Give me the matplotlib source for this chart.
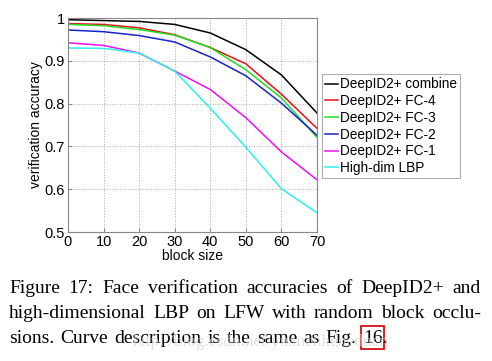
import matplotlib
matplotlib.use("Agg")
import matplotlib.pyplot as plt
from matplotlib.patches import Rectangle

block_size = [0, 10, 20, 30, 40, 50, 60, 70]
combine = [0.996, 0.994, 0.992, 0.985, 0.965, 0.926, 0.867, 0.778]
fc4 = [0.987, 0.985, 0.977, 0.961, 0.931, 0.893, 0.822, 0.742]
fc3 = [0.985, 0.982, 0.973, 0.960, 0.931, 0.879, 0.813, 0.721]
fc2 = [0.972, 0.968, 0.959, 0.944, 0.909, 0.865, 0.801, 0.726]
fc1 = [0.942, 0.936, 0.918, 0.876, 0.833, 0.767, 0.687, 0.622]
lbp = [0.930, 0.929, 0.918, 0.876, 0.789, 0.698, 0.601, 0.545]
labels = ["DeepID2+ combine", "DeepID2+ FC-4", "DeepID2+ FC-3",
          "DeepID2+ FC-2", "DeepID2+ FC-1", "High-dim LBP"]
colors = ["#000000", "#e8101c", "#22dd22", "#1a22cc", "#ee10ee", "#30eeee"]
xticks = [0, 10, 20, 30, 40, 50, 60, 70]
yticks = [0.5, 0.6, 0.7, 0.8, 0.9, 1.0]
yticklabels = ["0.5", "0.6", "0.7", "0.8", "0.9", "1"]
caption_lines = [
    "Figure 17: Face verification accuracies of DeepID2+ and",
    "high-dimensional LBP on LFW with random block occlu-",
    "sions. Curve description is the same as Fig. 16 .",
]

W, H = 492, 361
fig = plt.figure(figsize=(W / 100, H / 100), dpi=100)
plt.rcParams['font.family'] = ['Liberation Sans', 'DejaVu Sans']

ax = fig.add_axes([68 / W, 1 - 232 / H, (317 - 68) / W, (232 - 18) / H])
series = [combine, fc4, fc3, fc2, fc1, lbp]
for s, c, l in zip(series, colors, labels):
    ax.plot(block_size, s, color=c, lw=1.1, label=l)
ax.set_xlim(0, 70)
ax.set_ylim(0.5, 1.0)
ax.set_xticks(xticks)
ax.set_yticks(yticks)
ax.set_yticklabels(yticklabels)
ax.tick_params(direction='in', length=3, labelsize=10.5, pad=2, color='#888888')
ax.grid(True, linestyle=':', color='#aaaaaa', lw=0.7)
for sp in ax.spines.values():
    sp.set_color('#888888')
    sp.set_linewidth(0.8)
ax.set_xlabel("block size", fontsize=10, labelpad=0)
ax.set_ylabel("verification accuracy", fontsize=10, labelpad=1)

leg = fig.legend(loc='upper left', bbox_to_anchor=(322 / W, 1 - 74 / H),
                 fontsize=9.8, frameon=True, fancybox=False, handlelength=0.9,
                 handletextpad=0.15, borderpad=0.25, labelspacing=0.2,
                 borderaxespad=0)
leg.get_frame().set_edgecolor('#999999')
leg.get_frame().set_linewidth(0.8)

# caption, justified
renderer = fig.canvas.get_renderer()
x0, x1 = 9, 481
ys = [293, 318, 343]
fs = 14
for i, (line, yy) in enumerate(zip(caption_lines, ys)):
    words = line.split(" ")
    txts = [fig.text(0, 1 - yy / H, w, fontsize=fs, family='Liberation Serif',
                     va='baseline', ha='left') for w in words]
    widths = [t.get_window_extent(renderer).width for t in txts]
    if i < len(caption_lines) - 1:
        gap = (x1 - x0 - sum(widths)) / (len(words) - 1)
    else:
        gap = 6.2
    x = x0
    for t, w in zip(txts, widths):
        if t.get_text() == ".":
            x -= gap
        t.set_x(x / W)
        if t.get_text() == "16":
            fig.patches.append(Rectangle(((x - 1.5) / W, 1 - (yy + 6) / H), (w + 3) / W, 23 / H,
                                         transform=fig.transFigure, fill=False,
                                         edgecolor='#d01010', lw=1.3))
        x += w + gap

fig.text(133 / W, 1 - 346 / H, "http://blog.csdn.net/yuanchheneducn",
         fontsize=12.5, family='Liberation Serif', color='#d4d4d4', alpha=0.7)

fig.savefig("out.png", dpi=100)
